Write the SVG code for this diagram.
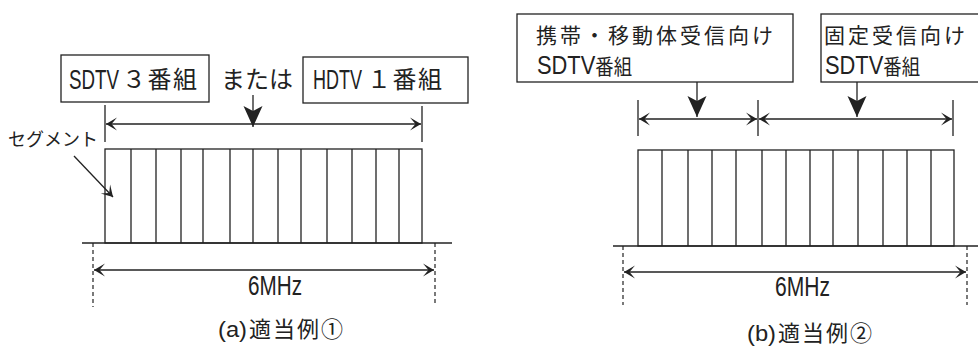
<svg xmlns="http://www.w3.org/2000/svg" width="978" height="347" viewBox="0 0 978 347">
<style>
.bg{fill:#fff}
.ln{stroke:#222;stroke-width:1.3;fill:none}
.bx{stroke:#222;stroke-width:1.3;fill:#fff}
.dash{stroke:#222;stroke-width:1.2;stroke-dasharray:4 3;fill:none}
.jp{font-family:"Noto Sans CJK JP","Noto Sans",sans-serif;fill:#222}
.la{font-family:"Liberation Sans","Noto Sans",sans-serif;fill:#222}
.dbl{marker-start:url(#chev);marker-end:url(#chev)}
.dn{marker-end:url(#down)}
</style>
<defs>
<marker id="chev" viewBox="-12 -7 13 14" refX="0" refY="0" markerWidth="13" markerHeight="14" markerUnits="userSpaceOnUse" orient="auto-start-reverse">
<path d="M0,0 L-11,-6.5 L-5.5,0 L-11,6.5 z" fill="#222"/>
</marker>
<marker id="down" viewBox="-23 -11 24 22" refX="0" refY="0" markerWidth="24" markerHeight="22" markerUnits="userSpaceOnUse" orient="auto">
<path d="M0,0 L-21,-9.5 L-16,0 L-21,9.5 z" fill="#222"/>
</marker>
</defs>
<rect class="bg" x="0" y="0" width="978" height="347"/>

<!-- Panel (a) -->
<g id="a-sdtv-box">
<rect class="bx" x="61" y="55" width="148" height="47"/>
<text class="la" x="69" y="89" font-size="27" textLength="50" lengthAdjust="spacingAndGlyphs">SDTV</text>
<text class="jp" x="122" y="88" font-size="24" letter-spacing="1.5">３番組</text>
</g>
<text id="a-or" class="jp" x="221" y="88" font-size="24">または</text>
<g id="a-hdtv-box">
<rect class="bx" x="303" y="57" width="165" height="46"/>
<text class="la" x="313" y="89" font-size="27" textLength="49" lengthAdjust="spacingAndGlyphs">HDTV</text>
<text class="jp" x="367" y="88" font-size="24" letter-spacing="1.5">１番組</text>
</g>
<text id="a-seg-label" class="jp" x="8" y="146" font-size="18">セグメント</text>
<g id="a-segments">
<rect class="ln" x="105" y="149" width="317" height="94"/>
<path class="ln" d="M131,149V243M156,149V243M181,149V243M203,149V243M230,149V243M253,149V243M278,149V243M301,149V243M327,149V243M352,149V243M376,149V243M399,149V243"/>
</g>
<text id="a-6mhz" class="la" x="248" y="295" font-size="28" textLength="54" lengthAdjust="spacingAndGlyphs">6MHz</text>
<g id="a-caption">
<text class="la" x="218" y="337" font-size="22" textLength="29" lengthAdjust="spacingAndGlyphs">(a)</text>
<text class="jp" x="249" y="337" font-size="22" letter-spacing="2">適当例①</text>
</g>

<!-- Panel (b) -->
<g id="b-mobile-box">
<rect class="bx" x="517" y="14" width="276" height="68"/>
<text class="jp" x="536" y="43" font-size="21" letter-spacing="3">携帯・移動体受信向け</text>
<text class="la" x="537" y="74" font-size="25" textLength="95" lengthAdjust="spacingAndGlyphs">SDTV<tspan class="jp" font-size="21">番組</tspan></text>
</g>
<g id="b-fixed-box">
<rect class="bx" x="821" y="14" width="200" height="68"/>
<text class="jp" x="824" y="43" font-size="21" letter-spacing="3">固定受信向け</text>
<text class="la" x="825" y="74" font-size="25" textLength="95" lengthAdjust="spacingAndGlyphs">SDTV<tspan class="jp" font-size="21">番組</tspan></text>
</g>
<g id="b-segments">
<rect class="ln" x="638" y="150" width="316" height="96"/>
<path class="ln" d="M662,150V246M688,150V246M712,150V246M736,150V246M762,150V246M786,150V246M810,150V246M833,150V246M858,150V246M883,150V246M907,150V246M931,150V246"/>
</g>
<text id="b-6mhz" class="la" x="775" y="296" font-size="28" textLength="55" lengthAdjust="spacingAndGlyphs">6MHz</text>
<g id="b-caption">
<text class="la" x="747" y="341" font-size="22" textLength="29" lengthAdjust="spacingAndGlyphs">(b)</text>
<text class="jp" x="778" y="341" font-size="22" letter-spacing="2">適当例②</text>
</g>

<g id="connectors">
<!-- panel a -->
<path class="ln" d="M105,105V142M422,106V142"/>
<path class="ln dbl" d="M106,124H421"/>
<path class="ln dn" d="M253,95V127"/>
<path class="ln" d="M82,243H452"/>
<path class="dash" d="M93,243V307M435,243V305"/>
<path class="ln dbl" d="M94,270H434"/>
<path class="ln" d="M74,156L113,197" marker-end="url(#chev)"/>
<!-- panel b -->
<path class="ln" d="M638,100V136M758,100V136M953,100V136"/>
<path class="ln dbl" d="M639,119H757"/>
<path class="ln dbl" d="M759,119H952"/>
<path class="ln dn" d="M697,82V117"/>
<path class="ln dn" d="M857,82V117"/>
<path class="ln" d="M613,246H978"/>
<path class="dash" d="M623,246V305M967,246V305"/>
<path class="ln dbl" d="M624,272H966"/>
</g>
</svg>
